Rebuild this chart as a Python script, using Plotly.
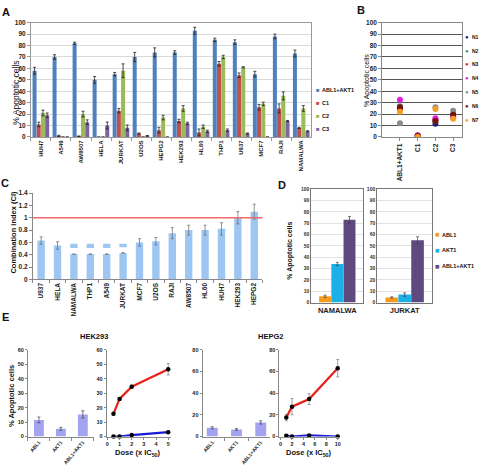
import plotly.graph_objects as go

W, H = 481, 473
def px(x): return x / W
def py(y): return 1 - y / H

FONT = "Liberation Sans, Arial, sans-serif"

# ---------------- Panel A data ----------------
a_cells = ["HUH7", "A549", "AW8507", "HELA", "JURKAT", "U2OS", "HEPG2", "HEK293",
           "HL60", "THP1", "U937", "MCF7", "RAJI", "NAMALWA"]
a_series = ["ABL1+AKT1", "C1", "C2", "C3"]
a_abl_akt = [58, 70, 82, 50, 55, 70, 74, 74, 93, 85, 83, 55, 88, 73]
a_abl_akt_err = [3, 2, 1, 3, 1.5, 4, 4, 1.5, 3, 1.5, 2, 2.5, 2, 3]
a_c1 = [11, 1, 0.5, 0, 23, 3, 6, 14, 4, 64, 54, 26, 25, 8]
a_c1_err = [2, 0.5, 0.3, None, 2, 0.5, 2.5, 1.5, 3, 2, 2, 2.5, 4, 0.5]
a_c2 = [21, 0, 20, 0, 58, 0, 17, 25, 9, 70, 61, 29, 36, 25]
a_c2_err = [2.5, None, 2.5, None, 6, None, 2, 2.5, 1.5, 1.5, 0.5, 1.5, 3.5, 2.5]
a_c3 = [19, 0, 13, 10, 8, 1, 0, 12, 5, 6, 3, 0, 14, 5]
a_c3_err = [2, None, 2, 3, 2.5, 0.3, None, 1, 1, 1, 0.5, None, 0.5, 0.5]
a_colors = ["#4F81BD", "#C0504D", "#9BBB59", "#8064A2"]

# ---------------- Panel B data ----------------
b_cats = ["ABL1+AKT1", "C1", "C2", "C3"]
b_names = ["N1", "N2", "N3", "N4", "N5", "N6", "N7"]
b_n1 = [25, 0.5, 11.5, 18]
b_n2 = [27, 0.5, 14, 20]
b_n3 = [24, 1, 15, 17]
b_n4 = [32.5, 1.5, 16.5, 17]
b_n5 = [12, 0.5, 26, 23]
b_n6 = [26, 1, 14, 19.5]
b_n7 = [22, 0, 24.5, 16]
b_colors = ["#1C1C78", "#3A9A6A", "#E8202A", "#E020E0", "#8C8C8C", "#7A1010", "#F5A020"]

# ---------------- Panel C data ----------------
c_cells = ["U937", "HELA", "NAMALWA", "THP1", "A549", "JURKAT", "MCF7", "U2OS",
           "RAJI", "AW8507", "HL60", "HUH7", "HEK293", "HEPG2"]
c_ci = [0.63, 0.55, 0.41, 0.41, 0.41, 0.43, 0.60, 0.62, 0.75, 0.80, 0.80, 0.82, 1.0, 1.1]
c_ci_err = [0.06, 0.06, None, None, None, None, 0.06, 0.06, 0.09, 0.08, 0.08, 0.1, 0.1, 0.12]
c_break_base = [None, None, 0.51, 0.51, 0.51, 0.52, None, None, None, None, None, None, None, None]
c_break_top = [None, None, 0.07, 0.07, 0.07, 0.06, None, None, None, None, None, None, None, None]
c_threshold = 1.0

# ---------------- Panel D data ----------------
d_series = ["ABL1", "AKT1", "ABL1+AKT1"]
d_namalwa = [5.5, 34, 73]
d_namalwa_err = [1, 1.5, 3]
d_jurkat = [4.5, 7, 55]
d_jurkat_err = [0.5, 1.5, 3]
d_colors = ["#F79B1E", "#1CB0E8", "#5E4A7E"]

# ---------------- Panel E data ----------------
e_treat = ["ABL1", "AKT1", "ABL1+AKT1"]
e_hek_bar = [11.5, 5.3, 15.3]
e_hek_bar_err = [2, 1, 2.5]
e_hepg2_bar = [8, 6.5, 13]
e_hepg2_bar_err = [1, 0.8, 1.5]
e_hek_dose = [0.5, 1, 2, 5]
e_hek_red = [15.7, 26, 34.5, 46.6]
e_hek_red_err = [0.8, 1, 1.2, 4]
e_hek_blue = [0, 0, 1, 3]
e_hepg2_dose = [1, 2, 5, 10]
e_hepg2_red = [17.5, 27.5, 34.5, 63]
e_hepg2_red_err = [3, 7.5, 5, 8]
e_hepg2_blue = [0.8, 0, 1, 0]

fig = go.Figure()

tick_font = dict(family=FONT, size=6.5, color="#222", weight="bold")
small_tick = dict(family=FONT, size=5.5, color="#222", weight="bold")

# ---- A ----
a_vals = [a_abl_akt, a_c1, a_c2, a_c3]
a_errs = [a_abl_akt_err, a_c1_err, a_c2_err, a_c3_err]
for i, (name, vals, errs) in enumerate(zip(a_series, a_vals, a_errs)):
    fig.add_trace(go.Bar(
        x=a_cells, y=vals, name=name, marker_color=a_colors[i],
        marker_line_width=0, width=0.2, offset=-0.42 + 0.21 * i,
        error_y=dict(type="data", array=errs, color="#222", thickness=0.8, width=1.5),
        xaxis="x", yaxis="y", showlegend=False))

# ---- B ----
b_all = [b_n1, b_n2, b_n3, b_n4, b_n5, b_n6, b_n7]
for i, (name, vals) in enumerate(zip(b_names, b_all)):
    fig.add_trace(go.Scatter(
        x=b_cats, y=vals, mode="markers", name=name,
        marker=dict(color=b_colors[i], size=6),
        xaxis="x2", yaxis="y2", showlegend=False))

# ---- C ----
fig.add_trace(go.Bar(
    x=c_cells, y=c_ci, marker_color="#9EC6F2", marker_line_width=0,
    width=0.45, offsetgroup="c",
    error_y=dict(type="data", array=c_ci_err, color="#666", thickness=0.7, width=1.5),
    xaxis="x3", yaxis="y3", showlegend=False))
fig.add_trace(go.Bar(
    x=c_cells, y=c_break_top, base=c_break_base, marker_color="#9EC6F2",
    marker_line_width=0, width=0.45, offsetgroup="c",
    xaxis="x3", yaxis="y3", showlegend=False))

# ---- D ----
for j, (cell, vals, errs, ax) in enumerate([("NAMALWA", d_namalwa, d_namalwa_err, "4"),
                                            ("JURKAT", d_jurkat, d_jurkat_err, "5")]):
    for i, name in enumerate(d_series):
        fig.add_trace(go.Bar(
            x=[cell], y=[vals[i]], name=name, marker_color=d_colors[i],
            marker_line_width=0, width=0.23, offset=-0.35 + 0.235 * i,
            error_y=dict(type="data", array=[errs[i]], color="#444", thickness=0.7, width=1.5),
            xaxis="x" + ax, yaxis="y" + ax, showlegend=False))

# ---- E ----
fig.add_trace(go.Bar(
    x=e_treat, y=e_hek_bar, marker_color="#A3A3F2", marker_line_width=0, width=0.45,
    error_y=dict(type="data", array=e_hek_bar_err, color="#444", thickness=0.7, width=1.5),
    xaxis="x6", yaxis="y6", showlegend=False))
fig.add_trace(go.Scatter(
    x=e_hek_dose, y=e_hek_red, mode="lines+markers",
    line=dict(color="#E8201A", width=2.2), marker=dict(color="black", size=4.5),
    error_y=dict(type="data", array=e_hek_red_err, color="#777", thickness=0.7, width=1.5),
    xaxis="x7", yaxis="y7", showlegend=False, cliponaxis=False))
fig.add_trace(go.Scatter(
    x=e_hek_dose, y=e_hek_blue, mode="lines+markers",
    line=dict(color="#1A1AD6", width=2.2), marker=dict(color="black", size=4.5),
    xaxis="x7", yaxis="y7", showlegend=False, cliponaxis=False))
fig.add_trace(go.Bar(
    x=e_treat, y=e_hepg2_bar, marker_color="#A3A3F2", marker_line_width=0, width=0.45,
    error_y=dict(type="data", array=e_hepg2_bar_err, color="#444", thickness=0.7, width=1.5),
    xaxis="x8", yaxis="y8", showlegend=False))
fig.add_trace(go.Scatter(
    x=e_hepg2_dose, y=e_hepg2_red, mode="lines+markers",
    line=dict(color="#E8201A", width=2.2), marker=dict(color="black", size=4.5),
    error_y=dict(type="data", array=e_hepg2_red_err, color="#777", thickness=0.7, width=1.5),
    xaxis="x9", yaxis="y9", showlegend=False, cliponaxis=False))
fig.add_trace(go.Scatter(
    x=e_hepg2_dose, y=e_hepg2_blue, mode="lines+markers",
    line=dict(color="#1A1AD6", width=2.2), marker=dict(color="black", size=4.5),
    xaxis="x9", yaxis="y9", showlegend=False, cliponaxis=False))

# ---------------- axes ----------------
def xdom(a, b): return [px(a), px(b)]
def ydom(bottom, top): return [py(bottom), py(top)]

axis_common = dict(zeroline=False, linewidth=1)

fig.update_layout(
    # A
    xaxis=dict(domain=xdom(30, 311), anchor="y", type="category", range=[-0.5, 13.5],
               tickangle=-90, showline=True, linecolor="#999", mirror=True,
               ticks="outside", ticklen=3, tickcolor="#999", tickson="boundaries",
               showgrid=False, tickfont=dict(family=FONT, size=6, color="#222", weight="bold"),
               **axis_common),
    yaxis=dict(domain=ydom(135, 19), anchor="x", range=[0, 100], dtick=10,
               showline=True, linecolor="#999", mirror=True, ticks="outside", ticklen=3,
               tickcolor="#999", showgrid=True, gridcolor="#DADADA", gridwidth=1,
               tickfont=tick_font, **axis_common),
    # B
    xaxis2=dict(domain=xdom(382, 462), anchor="y2", type="category", range=[-1, 3.5],
                tickangle=-90, showline=True, linecolor="#888", mirror=True,
                ticks="outside", ticklen=3, tickcolor="#888", showgrid=False,
                tickfont=tick_font, **axis_common),
    yaxis2=dict(domain=ydom(135, 19), anchor="x2", range=[0, 100], dtick=10,
                showline=True, linecolor="#888", mirror=True, ticks="outside", ticklen=3,
                tickcolor="#888", showgrid=True, gridcolor="#555", gridwidth=1.3,
                tickfont=tick_font, **axis_common),
    # C
    xaxis3=dict(domain=xdom(32, 262), anchor="y3", type="category", range=[-0.5, 13.5],
                tickangle=-90, showline=True, linecolor="#888", ticks="outside",
                ticklen=3, tickcolor="#888", tickson="boundaries", showgrid=False,
                tickfont=tick_font, **axis_common),
    yaxis3=dict(domain=ydom(279.5, 192), anchor="x3", range=[0, 1.4],
                tickvals=[0, 0.2, 0.4, 0.6, 0.8, 1, 1.2, 1.4],
                ticktext=["0", "0.2", "0.4", "0.6", "0.8", "1", "1.2", "1.4"],
                showline=True, linecolor="#888", ticks="outside", ticklen=3,
                tickcolor="#888", showgrid=False, tickfont=tick_font, **axis_common),
    # D
    xaxis4=dict(domain=xdom(311, 363), anchor="y4", type="category", range=[-0.5, 0.5],
                showline=True, linecolor="#777", mirror=True, ticks="", showgrid=False,
                tickfont=dict(family=FONT, size=7.5, color="#222", weight="bold"), **axis_common),
    yaxis4=dict(domain=ydom(303, 188), anchor="x4", range=[0, 100], dtick=10,
                showline=True, linecolor="#777", mirror=True, ticks="", showgrid=True,
                gridcolor="#E3E3E3", tickfont=dict(family=FONT, size=5, color="#333", weight="bold"),
                **axis_common),
    xaxis5=dict(domain=xdom(377, 432), anchor="y5", type="category", range=[-0.5, 0.5],
                showline=True, linecolor="#777", mirror=True, ticks="", showgrid=False,
                tickfont=dict(family=FONT, size=7.5, color="#222", weight="bold"), **axis_common),
    yaxis5=dict(domain=ydom(303, 188), anchor="x5", range=[0, 100], dtick=10,
                showline=True, linecolor="#777", mirror=True, ticks="", showgrid=True,
                gridcolor="#E3E3E3", tickfont=dict(family=FONT, size=5, color="#333", weight="bold"),
                **axis_common),
    # E
    xaxis6=dict(domain=xdom(27, 93), anchor="y6", type="category", range=[-0.5, 2.5],
                tickangle=-50, showline=True, linecolor="#888", ticks="outside", ticklen=3,
                tickcolor="#888", tickson="boundaries", showgrid=False,
                tickfont=dict(family=FONT, size=5, color="#222", weight="bold"), **axis_common),
    yaxis6=dict(domain=ydom(439, 351), anchor="x6", range=[0, 60], dtick=10,
                showline=True, linecolor="#888", ticks="outside", ticklen=2,
                tickcolor="#888", showgrid=False, tickfont=small_tick, **axis_common),
    xaxis7=dict(domain=xdom(106, 170), anchor="y7", range=[-0.05, 5.2], dtick=1,
                showline=True, linecolor="#888", ticks="outside", ticklen=2,
                tickcolor="#888", showgrid=False, tickfont=small_tick, **axis_common),
    yaxis7=dict(domain=ydom(439, 351), anchor="x7", range=[0, 60], dtick=10,
                showline=True, linecolor="#888", ticks="outside", ticklen=2,
                tickcolor="#888", showgrid=False, tickfont=small_tick, **axis_common),
    xaxis8=dict(domain=xdom(202, 270), anchor="y8", type="category", range=[-0.4, 2.4],
                tickangle=-50, showline=True, linecolor="#888", ticks="outside", ticklen=3,
                tickcolor="#888", tickson="boundaries", showgrid=False,
                tickfont=dict(family=FONT, size=5, color="#222", weight="bold"), **axis_common),
    yaxis8=dict(domain=ydom(439, 351), anchor="x8", range=[0, 80], dtick=20,
                showline=True, linecolor="#888", ticks="outside", ticklen=2,
                tickcolor="#888", showgrid=False, tickfont=small_tick, **axis_common),
    xaxis9=dict(domain=xdom(279, 340), anchor="y9", range=[-0.2, 10.45], dtick=2,
                showline=True, linecolor="#888", ticks="outside", ticklen=2,
                tickcolor="#888", showgrid=False, tickfont=small_tick, **axis_common),
    yaxis9=dict(domain=ydom(439, 351), anchor="x9", range=[0, 80], dtick=20,
                showline=True, linecolor="#888", ticks="outside", ticklen=2,
                tickcolor="#888", showgrid=False, tickfont=small_tick, **axis_common),
)

# threshold line across the whole C plot width
fig.add_shape(type="line", xref="x3 domain", yref="y3", x0=0, x1=1,
              y0=c_threshold, y1=c_threshold, line=dict(color="#F26B6B", width=1.5))

# ---------------- annotations ----------------
ann = []
def text(x, y, s, size=8, bold=False, angle=0, xanchor="center", yanchor="middle", color="#111"):
    ann.append(dict(x=px(x), y=py(y), xref="paper", yref="paper", text=s, showarrow=False,
                    textangle=angle, xanchor=xanchor, yanchor=yanchor, borderpad=0,
                    font=dict(family=FONT, size=size, color=color,
                              weight="bold" if bold else "normal")))

# panel letters
text(5, 8, "A", 11, True)
text(361, 6, "B", 11, True)
text(4, 182, "C", 11, True)
text(282, 184, "D", 11, True)
text(5, 318, "E", 11, True)

# y titles
text(15, 90, "% Apoptotic cells", 8.5, angle=-90)
text(367, 78, "% Apoptotic cells", 7, angle=-90)
text(13, 231, "Combination index (CI)", 7.5, True, angle=-90)
text(290, 250, "% Apoptotic cells", 7, True, angle=-90)
text(10, 398, "% Apoptotic cells", 7.5, True, angle=-90)

# E titles
text(93, 338, "HEK293", 7.5, True)
text(270, 338, "HEPG2", 7.5, True)
text(137, 456, "Dose (x IC<sub>50</sub>)", 7.5, True)
text(309, 456, "Dose (x IC<sub>50</sub>)", 7.5, True)

# legend A (swatch + label)
for i, name in enumerate(a_series):
    yy = 87 + 13.3 * i
    text(318, yy, "■", 6, color=a_colors[i])
    text(321, yy, name, 5.5, True, xanchor="left")
# legend B
for i, name in enumerate(b_names):
    yy = 33 + 14.2 * i
    text(467, yy, "●", 6, color=b_colors[i])
    text(470.5, yy, name, 5, True, xanchor="left")
# legend D
for i, name in enumerate(d_series):
    yy = 234 + 16 * i
    text(437, yy, "■", 7.5, color=d_colors[i])
    text(441, yy, name, 5.5, True, xanchor="left")

fig.update_layout(
    annotations=ann,
    width=W, height=H, margin=dict(l=0, r=0, t=0, b=0),
    paper_bgcolor="white", plot_bgcolor="white",
    barmode="group", showlegend=False, hovermode=False,
    font=dict(family=FONT, size=7, color="#222"),
)

fig.write_html("out.html", config={"displayModeBar": False},
               post_script="document.body.style.margin='0px';document.body.style.padding='0px';")
